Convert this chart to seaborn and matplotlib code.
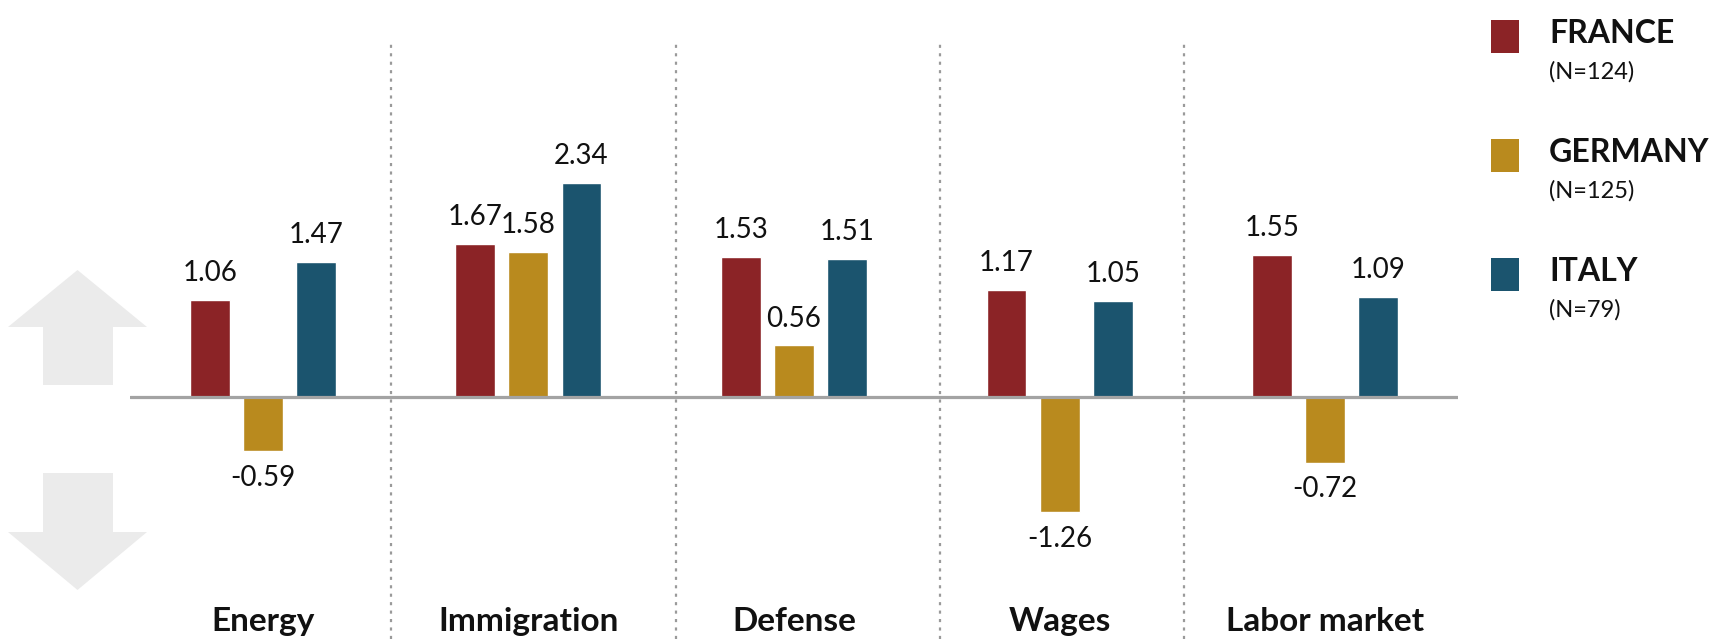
import matplotlib
matplotlib.use("Agg")
import matplotlib.pyplot as plt
from matplotlib.patches import Polygon, Rectangle
import seaborn as sns
import pandas as pd

# data
topics = ["Energy", "Immigration", "Defense", "Wages", "Labor market"]
countries = ["FRANCE", "GERMANY", "ITALY"]
sample_sizes = ["(N=124)", "(N=125)", "(N=79)"]
france = [1.06, 1.67, 1.53, 1.17, 1.55]
germany = [-0.59, 1.58, 0.56, -1.26, -0.72]
italy = [1.47, 2.34, 1.51, 1.05, 1.09]
colors = ["#8B2326", "#B98A1E", "#1B546E"]

df = pd.DataFrame({
    "topic": topics * 3,
    "country": [c for c in countries for _ in topics],
    "score": france + germany + italy,
})

sns.set_style("white")
plt.rcParams["font.family"] = ["Lato", "DejaVu Sans"]

W, H = 1725, 639
fig = plt.figure(figsize=(W / 100, H / 100), dpi=100)
fig.patch.set_facecolor("white")


def fx(px):
    return px / W


def fy(py):
    return 1 - py / H


ax = fig.add_axes([fx(130), 0, fx(1458) - fx(130), 1])

sns.barplot(
    data=df, x="topic", y="score", hue="country",
    palette=colors, width=0.6, gap=0.25, saturation=1,
    legend=False, ax=ax, errorbar=None,
)

# scale: zero line at y=396.7 px, ~91.5 px per unit
ax.set_xlim(-0.5, 4.5)
ax.set_ylim(-(H - 396.7) / 91.5, 396.7 / 91.5)
ax.axis("off")

ax.axhline(0, color="#a3a3a3", linewidth=2.3, zorder=3)

# dotted separators between topic groups
for xs in [0.482, 1.556, 2.55, 3.47]:
    ax.axvline(xs, ymin=0, ymax=(H - 41) / H, color="#9a9a9a",
               linewidth=1.6, linestyle=(0, (1.4, 2.4)), zorder=0)

# value labels
for cont in ax.containers:
    ax.bar_label(cont, fmt="%.2f", padding=10, fontsize=20, color="#111111")

# category labels at the bottom
for i, t in enumerate(topics):
    ax.text(i, 8 / H, t, transform=ax.get_xaxis_transform(), ha="center",
            va="baseline", fontsize=24, fontweight="bold", color="#111111")

# big grey up/down arrows on the left
up = [(77.5, 270), (147, 327), (113, 327), (113, 385), (43, 385), (43, 327), (8, 327)]
down = [(43, 473), (113, 473), (113, 532), (147, 532), (77.5, 590), (8, 532), (43, 532)]
for shape in (up, down):
    fig.patches.append(Polygon([(fx(x), fy(y)) for x, y in shape], closed=True,
                               transform=fig.transFigure, facecolor="#ebebeb",
                               edgecolor="none"))

# legend drawn by hand (bold country name + sample size below)
for k, (name, n, col) in enumerate(zip(countries, sample_sizes, colors)):
    top = 20 + k * 119
    fig.patches.append(Rectangle((fx(1491), fy(top + 33)), fx(28), 33 / H,
                                 transform=fig.transFigure, facecolor=col,
                                 edgecolor="none"))
    fig.text(fx(1549), fy(top + 23), name, fontsize=23, fontweight="bold",
             color="#111111", va="baseline", ha="left")
    fig.text(fx(1549), fy(top + 59), n, fontsize=17, color="#111111",
             va="baseline", ha="left")

fig.savefig("out.png", dpi=100)
